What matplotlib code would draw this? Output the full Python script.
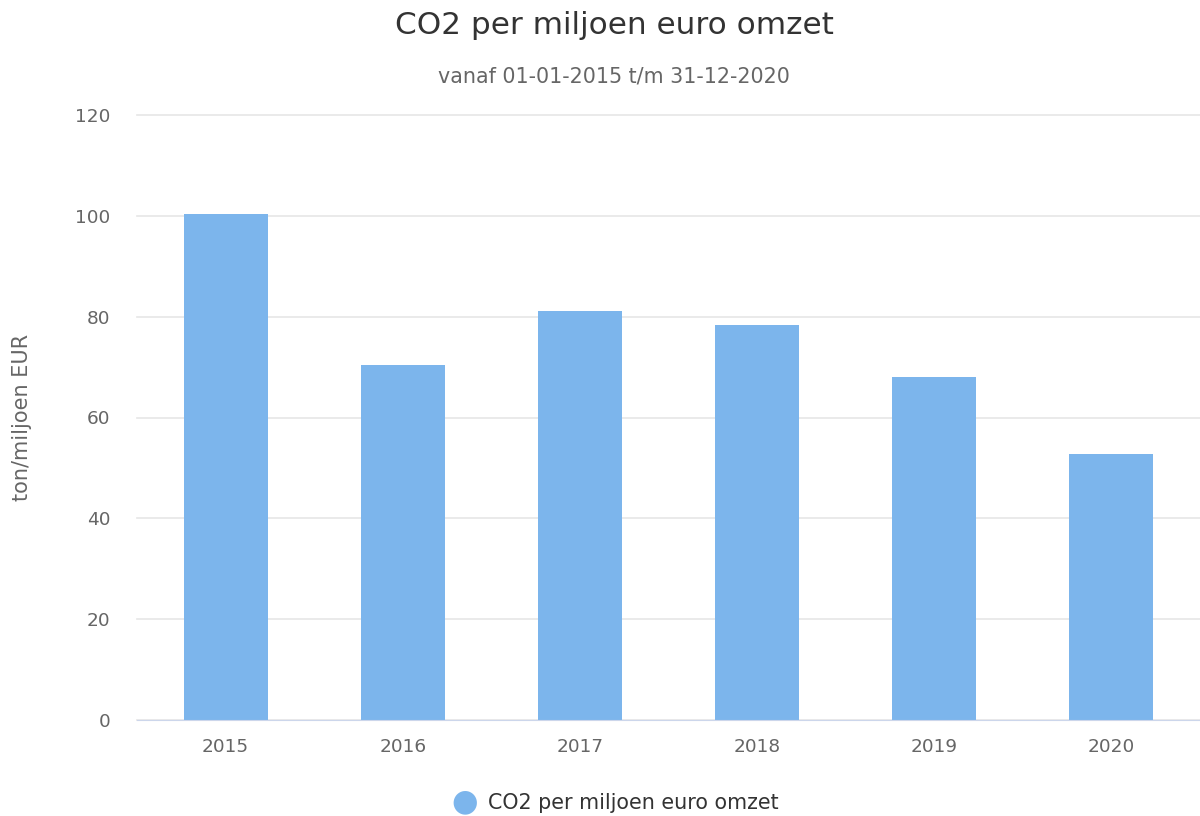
import matplotlib.pyplot as plt
import numpy as np

plt.rcParams["font.family"] = ["DejaVu Sans"]

years = ["2015", "2016", "2017", "2018", "2019", "2020"]
co2 = [100.4, 70.4, 81.1, 78.3, 68.0, 52.8]
yticks = [0, 20, 40, 60, 80, 100, 120]

bar_color = "#7cb5ec"

fig = plt.figure(figsize=(12, 8.16), dpi=100)
ax = fig.add_axes([137 / 1200, 96 / 816, 1063 / 1200, 605 / 816])

x = np.arange(len(years))
ax.bar(x, co2, width=0.475, color=bar_color, zorder=3)

ax.set_xlim(-0.5, len(years) - 0.5)
ax.set_ylim(0, 120)
ax.set_yticks(yticks)
ax.set_xticks(x)
ax.set_xticklabels(years)
ax.grid(axis="y", color="#e6e6e6", linewidth=1.2, zorder=0)
for gl in ax.get_ygridlines():
    gl.set_clip_on(False)
ax.tick_params(axis="both", length=0, labelsize=13.3, colors="#666666")
ax.tick_params(axis="x", pad=13)
ax.tick_params(axis="y", pad=19)
for s in ["top", "right", "left"]:
    ax.spines[s].set_visible(False)
ax.spines["bottom"].set_color("#ccd6eb")
ax.spines["bottom"].set_zorder(4)

ax.set_ylabel("ton/miljoen EUR", fontsize=15, color="#666666")
ax.yaxis.set_label_coords(-105 / 1063, 0.5)

fig.text(614 / 1200, 1 - 25 / 816, "CO2 per miljoen euro omzet", ha="center", va="center",
         fontsize=22.4, color="#333333")
fig.text(614 / 1200, 1 - 76 / 816, "vanaf 01-01-2015 t/m 31-12-2020", ha="center", va="center",
         fontsize=14.9, color="#666666")

# legend
fig.text(465 / 1200, 1 - 802 / 816, "\u25cf", ha="center", va="center",
         fontsize=22, color=bar_color)
fig.text(488 / 1200, 1 - 803 / 816, "CO2 per miljoen euro omzet", ha="left", va="center",
         fontsize=14.9, color="#333333")

fig.savefig("out.png", dpi=100)
